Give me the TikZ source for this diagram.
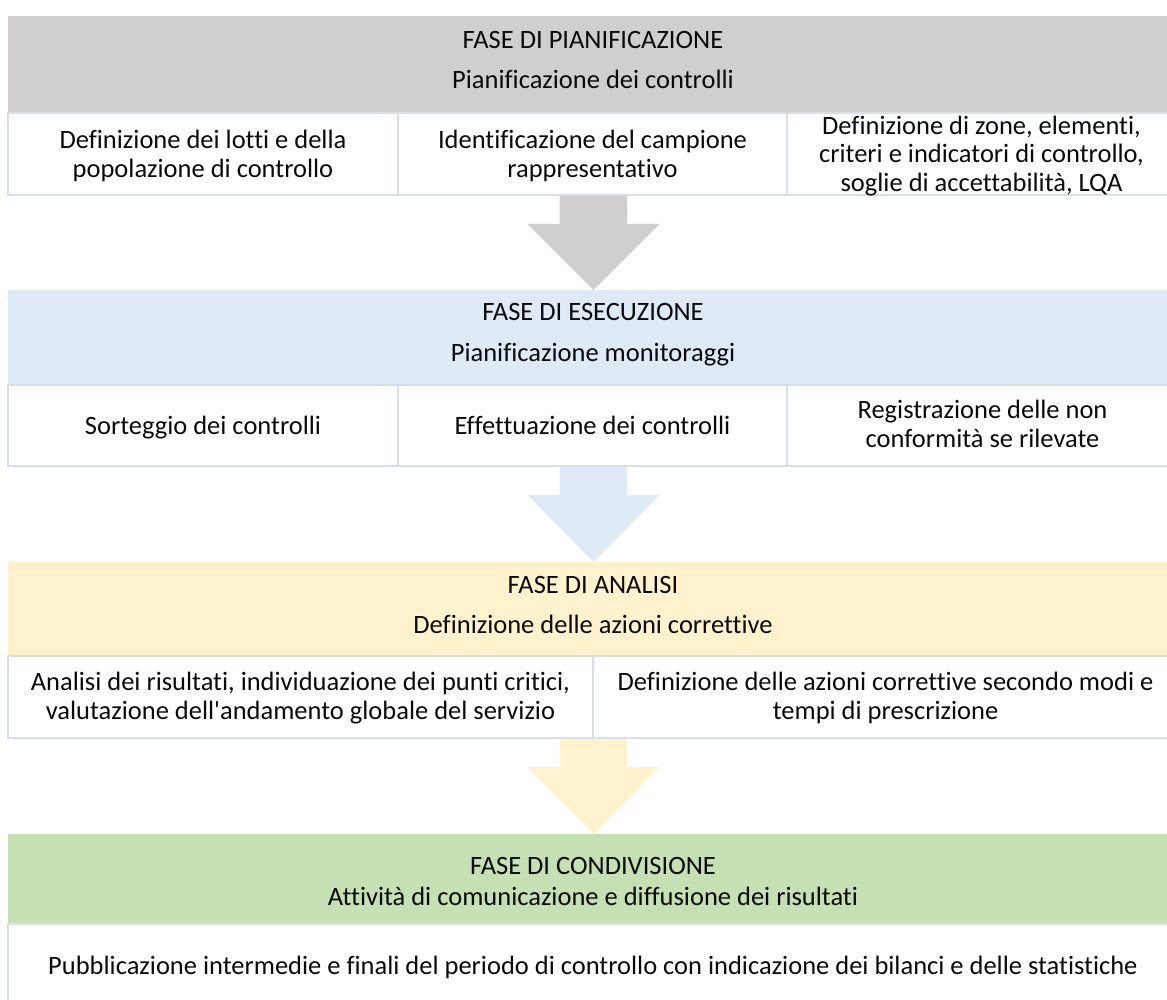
\documentclass[tikz,border=0pt]{standalone}
\usepackage{fontspec}
\setmainfont{Carlito}[Ligatures={TeXOff,NoCommon}]
\usetikzlibrary{calc}
\definecolor{hgray}{HTML}{D0CECE}
\definecolor{hblue}{HTML}{DEEAF6}
\definecolor{hyellow}{HTML}{FFF2CC}
\definecolor{hgreen}{HTML}{C5E0B3}
\definecolor{gridc}{HTML}{D5DFF0}
\definecolor{ink}{HTML}{0A0A0A}
\newcommand\blockarrow[3]{%
  \fill[#1] let \p1=(#2.south), \p2=(#3.north) in
    (559.5pt,\y1-1pt) -- (627pt,\y1-1pt) -- (627pt,\y1-29pt) -- (659.5pt,\y1-29pt)
    -- (593.5pt,\y2) -- (527.5pt,\y1-29pt) -- (559.5pt,\y1-29pt) -- cycle;}
\begin{document}
\begin{tikzpicture}[x=1pt,y=-1pt,
  every node/.style={inner sep=0pt,outer sep=0pt},
  hdr/.style={rectangle,anchor=north west,minimum width=1170pt,minimum height=#1},
  cell/.style={rectangle,draw=gridc,line width=1.6pt,fill=white,anchor=north west},
  txt/.style={font=\fontsize{26.5}{28.5}\selectfont,text=ink,align=center},
  htxt/.style={font=\fontsize{26.5}{28.5}\selectfont,text=ink,anchor=base},
]
\useasboundingbox (0,0) rectangle (1167,1000);
\clip (0,0) rectangle (1167,1000);

% ---------- headers ----------
\node[hdr=97pt,fill=hgray]   (h1) at (8,16)  {};
\node[hdr=95pt,fill=hblue]   (h2) at (8,290) {};
\node[hdr=94pt,fill=hyellow] (h3) at (8,562) {};
\node[hdr=90pt,fill=hgreen]  (h4) at (8,834) {};

\node[htxt] (h1a) at (593,49)  {FASE DI PIANIFICAZIONE};
\node[htxt] (h1b) at (593,89)  {Pianificazione dei controlli};
\node[htxt] (h2a) at (593,320) {FASE DI ESECUZIONE};
\node[htxt] (h2b) at (593,361) {Pianificazione monitoraggi};
\node[htxt] (h3a) at (593,593) {FASE DI ANALISI};
\node[htxt] (h3b) at (593,633) {Definizione delle azioni correttive};
\node[htxt] (h4a) at (593,874) {FASE DI CONDIVISIONE};
\node[htxt] (h4b) at (593,905) {Attività di comunicazione e diffusione dei risultati};

% ---------- row 1 ----------
\node[cell,minimum width=390pt,minimum height=82pt] (c11) at (8,113)   {};
\node[cell,minimum width=389pt,minimum height=82pt] (c12) at (398,113) {};
\node[cell,minimum width=391pt,minimum height=82pt] (c13) at (787,113) {};
\node[txt] (t11) at ($(c11.center)+(0,3.5)$) {\strut Definizione dei lotti e della\\\strut popolazione di controllo};
\node[txt] (t12) at ($(c12.center)+(0,3.5)$) {\strut Identificazione del campione\\\strut rappresentativo};
\node[txt] (t13) at ($(c13.center)+(-1,3)$) {\strut Definizione di zone, elementi,\\\strut criteri e indicatori di controllo,\\\strut soglie di accettabilità, LQA};

% ---------- row 2 ----------
\node[cell,minimum width=390pt,minimum height=81pt] (c21) at (8,385)   {};
\node[cell,minimum width=389pt,minimum height=81pt] (c22) at (398,385) {};
\node[cell,minimum width=391pt,minimum height=81pt] (c23) at (787,385) {};
\node[txt] (t21) at ($(c21.center)+(0,3)$) {\strut Sorteggio dei controlli};
\node[txt] (t22) at ($(c22.center)+(0,3)$) {\strut Effettuazione dei controlli};
\node[txt] (t23) at ($(c23.center)+(0,2)$) {\strut Registrazione delle non\\\strut conformità se rilevate};

% ---------- row 3 ----------
\node[cell,minimum width=585pt,minimum height=82pt] (c31) at (8,656)   {};
\node[cell,minimum width=585pt,minimum height=82pt] (c32) at (593,656) {};
\node[txt] (t31) at ($(c31.center)+(0,2.5)$) {\strut Analisi dei risultati, individuazione dei punti critici,\\\strut valutazione dell'andamento globale del servizio};
\node[txt] (t32) at ($(c32.center)+(0,2.5)$) {\strut Definizione delle azioni correttive secondo modi e\\\strut tempi di prescrizione};

% ---------- row 4 ----------
\node[cell,minimum width=1170pt,minimum height=110pt] (c41) at (8,924) {};
\node[htxt] (t41) at (593,974) {Pubblicazione intermedie e finali del periodo di controllo con indicazione dei bilanci e delle statistiche};

% ---------- arrows ----------
\blockarrow{hgray}{c12}{h2}
\blockarrow{hblue}{c22}{h3}
\blockarrow{hyellow}{c31}{h4}
\end{tikzpicture}
\end{document}
